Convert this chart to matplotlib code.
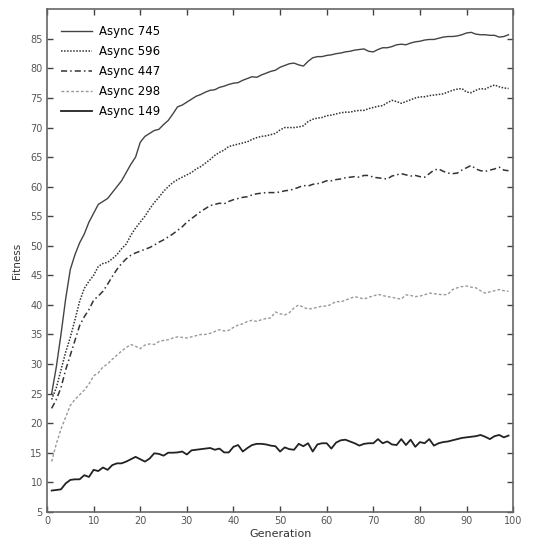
import numpy as np
import matplotlib
matplotlib.use("Agg")
import matplotlib.pyplot as plt

# generations 1..99
generations = list(range(1, 100))

async_745 = [
    25, 29.5, 35, 41, 46, 48.5, 50.5, 52, 54, 55.5,
    57, 57.5, 58, 59, 60, 61, 62.4, 63.8, 65, 67.5,
    68.5, 69, 69.5, 69.7, 70.5, 71.2, 72.3, 73.5, 73.8, 74.3,
    74.8, 75.3, 75.6, 76, 76.3, 76.4, 76.8, 77, 77.3, 77.5,
    77.6, 78, 78.3, 78.6, 78.5, 78.9, 79.2, 79.5, 79.7, 80.2,
    80.5, 80.8, 80.9, 80.6, 80.4, 81.2, 81.8, 82, 82, 82.2,
    82.3, 82.5, 82.6, 82.8, 82.9, 83.1, 83.2, 83.3, 82.9, 82.8,
    83.2, 83.5, 83.5, 83.7, 84, 84.1, 84, 84.3, 84.5, 84.6,
    84.8, 84.9, 84.9, 85.1, 85.3, 85.4, 85.4, 85.5, 85.7, 86,
    86.1, 85.8, 85.7, 85.7, 85.6, 85.6, 85.3, 85.4, 85.7,
]

async_596 = [
    24, 26, 29, 32, 34.5, 37.5, 40.6, 42.8, 44, 45,
    46.5, 47, 47.2, 47.8, 48.5, 49.5, 50.3, 51.8, 53, 54,
    55, 56.2, 57.3, 58.2, 59.2, 60, 60.7, 61.2, 61.6, 62,
    62.4, 63, 63.4, 64, 64.6, 65.3, 65.8, 66.2, 66.8, 67,
    67.2, 67.4, 67.6, 68, 68.3, 68.5, 68.6, 68.8, 69, 69.6,
    70, 70, 70, 70.1, 70.3, 71, 71.4, 71.6, 71.7, 72,
    72.1, 72.3, 72.5, 72.6, 72.6, 72.8, 72.9, 72.9, 73.2, 73.4,
    73.6, 73.7, 74.2, 74.6, 74.4, 74.1, 74.4, 74.7, 75, 75.2,
    75.2, 75.4, 75.5, 75.6, 75.7, 76, 76.3, 76.5, 76.6, 76,
    75.9, 76.3, 76.6, 76.5, 76.9, 77.2, 76.9, 76.7, 76.6,
]

async_447 = [
    22.5, 24, 26, 29, 31.5, 34, 36.5, 38, 39.2, 40.8,
    41.5, 42.3, 43.5, 44.8, 46, 47, 47.8, 48.4, 48.8, 49.1,
    49.4, 49.7, 50.1, 50.6, 51, 51.5, 52, 52.6, 53.2, 54,
    54.6, 55.2, 55.8, 56.3, 56.8, 57, 57.2, 57.1, 57.5, 57.8,
    58, 58.2, 58.3, 58.6, 58.8, 58.9, 59, 59, 59, 59.1,
    59.3, 59.4, 59.6, 59.9, 60.2, 60.1, 60.4, 60.5, 60.7, 61,
    61, 61.2, 61.3, 61.5, 61.6, 61.7, 61.6, 61.9, 61.9, 61.6,
    61.5, 61.4, 61.3, 61.8, 62, 62.2, 62, 61.8, 61.9, 61.7,
    61.6, 62.2, 62.8, 63, 62.6, 62.3, 62.2, 62.3, 62.8, 63.2,
    63.6, 63, 62.7, 62.6, 62.8, 63, 63.3, 62.8, 62.7,
]

async_298 = [
    13.5, 16.5, 19, 21, 23, 24, 24.8, 25.6, 26.6, 28,
    28.5, 29.5, 30, 30.8, 31.5, 32.2, 32.8, 33.3, 33, 32.6,
    33.2, 33.4, 33.3, 33.8, 34, 34.1, 34.4, 34.6, 34.5, 34.4,
    34.6, 34.8, 35, 35, 35.2, 35.5, 35.8, 35.6, 35.7, 36.2,
    36.6, 36.8, 37.2, 37.4, 37.2, 37.5, 37.7, 37.8, 38.8, 38.5,
    38.3, 38.7, 39.5, 40, 39.6, 39.3, 39.4, 39.6, 39.8, 39.8,
    40.1, 40.6, 40.5, 40.8, 41.1, 41.4, 41.2, 41, 41.3, 41.5,
    41.8, 41.6, 41.4, 41.3, 41.1, 41, 41.7, 41.6, 41.4, 41.5,
    41.7, 42, 41.9, 41.8, 41.7, 41.8, 42.6, 42.9, 43.1, 43.2,
    43, 42.9, 42.4, 42, 42.2, 42.4, 42.6, 42.4, 42.3,
]

async_149 = [
    8.6, 8.7, 8.8, 9.8, 10.4, 10.5, 10.5, 11.2, 10.9, 12.1,
    11.9, 12.5, 12.1, 12.9, 13.2, 13.2, 13.5, 13.9, 14.3, 13.9,
    13.5, 14, 14.9, 14.8, 14.5, 15, 15, 15.05, 15.2, 14.7,
    15.4, 15.5, 15.6, 15.7, 15.8, 15.5, 15.7, 15.05, 15.05, 16,
    16.3, 15.2, 15.8, 16.3, 16.5, 16.5, 16.4, 16.2, 16.1, 15.2,
    15.9, 15.6, 15.5, 16.5, 16.1, 16.6, 15.2, 16.4, 16.6, 16.6,
    15.7, 16.7, 17.1, 17.2, 16.9, 16.6, 16.2, 16.5, 16.6, 16.6,
    17.3, 16.6, 16.9, 16.4, 16.3, 17.3, 16.3, 17.2, 16, 16.8,
    16.6, 17.3, 16.2, 16.6, 16.8, 16.9, 17.1, 17.3, 17.5, 17.6,
    17.7, 17.8, 18, 17.7, 17.3, 17.8, 18, 17.6, 17.9,
]

fig = plt.figure(figsize=(5.34, 5.48), dpi=100)
ax = fig.add_axes([0.088, 0.066, 0.873, 0.917])

ax.plot(generations, async_745, color="#444444", lw=1.0, ls="-", label="Async 745")
ax.plot(generations, async_596, color="#333333", lw=1.1, ls=(0, (1, 1)), label="Async 596")
ax.plot(generations, async_447, color="#333333", lw=1.1, ls=(0, (4, 2, 1, 2)), label="Async 447")
ax.plot(generations, async_298, color="#999999", lw=1.0, ls=(0, (2, 1.5)), label="Async 298")
ax.plot(generations, async_149, color="#222222", lw=1.3, ls="-", label="Async 149")

ax.set_xlim(0, 100)
ax.set_ylim(5, 90)
ax.set_xticks(np.arange(0, 101, 10))
ax.set_yticks(np.arange(5, 86, 5))
ax.tick_params(direction="in", top=True, right=True, length=4, width=1,
               labelsize=7, labelcolor="#555555", color="#444444", pad=3)
for s in ax.spines.values():
    s.set_color("#666666")
    s.set_linewidth(1.2)

ax.set_xlabel("Generation", fontsize=8, color="#333333", labelpad=2)
ax.set_ylabel("Fitness", fontsize=7.5, color="#333333", labelpad=6)

ax.legend(loc="upper left", frameon=False, fontsize=8.5, labelspacing=0.6,
          handlelength=2.6, handletextpad=0.6, borderaxespad=0.3,
          bbox_to_anchor=(0.012, 0.985))

fig.savefig("out.png", dpi=100)
